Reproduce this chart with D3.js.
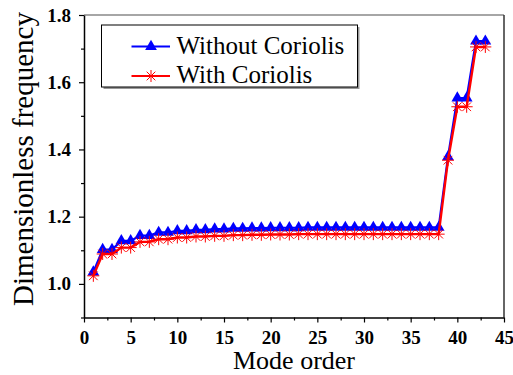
<!DOCTYPE html>
<html lang="en">
	<head>
		<meta charset="utf-8">
		<title>Dimensionless frequency vs mode order</title>
		<script type="text/javascript" src="https://cdn.jsdelivr.net/npm/d3@7"></script>
		<style type="text/css">
			body { margin: 0; background: #fff; }
			svg text { font-family: "Liberation Serif", "Times New Roman", Times, serif; }
		</style>
	</head>
	<body>
		<script type="text/javascript">
			/** Data **/
			var modes = d3.range(1, 44);
			var withoutCoriolis = [1.035, 1.102, 1.102, 1.128, 1.128, 1.144, 1.144, 1.153, 1.153, 1.158,
				1.158, 1.161, 1.161, 1.163, 1.163, 1.165, 1.165, 1.166, 1.166, 1.167,
				1.167, 1.167, 1.167, 1.168, 1.168, 1.168, 1.168, 1.168, 1.168, 1.168,
				1.168, 1.168, 1.168, 1.168, 1.168, 1.168, 1.168, 1.168, 1.378, 1.553,
				1.553, 1.722, 1.722];
			var withCoriolis = [1.024, 1.089, 1.089, 1.108, 1.108, 1.125, 1.125, 1.133, 1.133, 1.138,
				1.138, 1.141, 1.141, 1.143, 1.143, 1.145, 1.145, 1.146, 1.146, 1.147,
				1.147, 1.147, 1.148, 1.148, 1.148, 1.148, 1.148, 1.148, 1.148, 1.148,
				1.148, 1.148, 1.148, 1.148, 1.148, 1.148, 1.148, 1.148, 1.368, 1.527,
				1.527, 1.705, 1.705];
			var xTicks = [0, 5, 10, 15, 20, 25, 30, 35, 40, 45];
			var yTicks = [1.0, 1.2, 1.4, 1.6, 1.8];
			var seriesNames = ["Without Coriolis", "With Coriolis"];

			var width = 513, height = 375;
			var margin = {top: 15, right: 9, bottom: 57.5, left: 84};
			var serif = '"Liberation Serif", "Times New Roman", Times, serif';

			var svg = d3.select("body").append("svg")
				.attr("width", width)
				.attr("height", height);

			var x = d3.scaleLinear().domain([0, 45]).range([margin.left, width - margin.right]);
			var y = d3.scaleLinear().domain([0.9, 1.8]).range([height - margin.bottom, margin.top]);

			/** frame **/
			svg.append("line")
				.attr("x1", x(0)).attr("x2", x(45))
				.attr("y1", y(1.8)).attr("y2", y(1.8))
				.attr("stroke", "#888").attr("stroke-width", 1.5);
			svg.append("line")
				.attr("x1", x(45)).attr("x2", x(45))
				.attr("y1", y(1.8)).attr("y2", y(0.9))
				.attr("stroke", "#333").attr("stroke-width", 1.5);

			/** minor ticks **/
			svg.append("g")
				.attr("transform", "translate(0," + y(0.9) + ")")
				.call(d3.axisBottom(x).tickValues(d3.range(2.5, 45, 5)).tickSize(3).tickFormat(""))
				.call(g => g.select(".domain").remove());
			svg.append("g")
				.attr("transform", "translate(" + x(0) + ",0)")
				.call(d3.axisLeft(y).tickValues([0.9, 1.1, 1.3, 1.5, 1.7]).tickSize(3).tickFormat(""))
				.call(g => g.select(".domain").remove());

			/** axes **/
			var xAxis = svg.append("g")
				.attr("transform", "translate(0," + y(0.9) + ")")
				.call(d3.axisBottom(x).tickValues(xTicks).tickSize(5).tickSizeOuter(0).tickPadding(8).tickFormat(d3.format("d")));
			var yAxis = svg.append("g")
				.attr("transform", "translate(" + x(0) + ",0)")
				.call(d3.axisLeft(y).tickValues(yTicks).tickSize(5).tickSizeOuter(0).tickPadding(8).tickFormat(d3.format(".1f")));
			svg.selectAll(".tick line").attr("stroke", "#000").attr("stroke-width", 1.2);
			[xAxis, yAxis].forEach(function (g) {
				g.attr("font-family", null).attr("font-size", null);
				g.select(".domain").attr("stroke", "#000").attr("stroke-width", 1.5);
				g.selectAll("text")
					.style("font-family", serif)
					.style("font-size", "19px")
					.style("font-weight", "bold")
					.attr("fill", "#000");
			});

			/** axis titles **/
			svg.append("text")
				.attr("x", x(22.5)).attr("y", 369)
				.attr("text-anchor", "middle")
				.style("font-family", serif)
				.style("font-size", "26px")
				.text("Mode order");
			svg.append("text")
				.attr("transform", "translate(33,159) rotate(-90)")
				.attr("text-anchor", "middle")
				.style("font-family", serif)
				.style("font-size", "29px")
				.text("Dimensionless frequency");

			/** series **/
			var line = d3.line().x((d, i) => x(modes[i])).y(d => y(d));
			var triangle = d3.symbol().type(d3.symbolTriangle).size(60);

			function star(s) {
				return "M" + (-s) + ",0L" + s + ",0M0," + (-s) + "L0," + s +
					"M" + (-s * 0.72) + "," + (-s * 0.72) + "L" + (s * 0.72) + "," + (s * 0.72) +
					"M" + (-s * 0.72) + "," + (s * 0.72) + "L" + (s * 0.72) + "," + (-s * 0.72);
			}

			svg.append("path")
				.datum(withoutCoriolis)
				.attr("d", line)
				.attr("fill", "none").attr("stroke", "#0000ff").attr("stroke-width", 2.2);
			svg.selectAll(".tri")
				.data(withoutCoriolis)
				.enter().append("path")
				.attr("class", "tri")
				.attr("transform", (d, i) => "translate(" + x(modes[i]) + "," + y(d) + ")")
				.attr("d", triangle)
				.attr("fill", "#0000ff");

			svg.append("path")
				.datum(withCoriolis)
				.attr("d", line)
				.attr("fill", "none").attr("stroke", "#ff0000").attr("stroke-width", 2.4);
			svg.selectAll(".star")
				.data(withCoriolis)
				.enter().append("path")
				.attr("class", "star")
				.attr("transform", (d, i) => "translate(" + x(modes[i]) + "," + y(d) + ")")
				.attr("d", star(6))
				.attr("fill", "none").attr("stroke", "#ff0000").attr("stroke-width", 1);

			/** legend **/
			var lg = svg.append("g");
			lg.append("rect")
				.attr("x", 103.5).attr("y", 27).attr("width", 256).attr("height", 62)
				.attr("fill", "#999");
			lg.append("rect")
				.attr("x", 101.5).attr("y", 25).attr("width", 256).attr("height", 62)
				.attr("fill", "#fff").attr("stroke", "#000").attr("stroke-width", 1);
			var rows = lg.selectAll(".row")
				.data(seriesNames)
				.enter().append("g")
				.attr("transform", (d, i) => "translate(0," + (46.5 + i * 29.5) + ")");
			rows.append("line")
				.attr("x1", 131.5).attr("x2", 170).attr("y1", 0).attr("y2", 0)
				.attr("stroke", (d, i) => i === 0 ? "#0000ff" : "#ff0000")
				.attr("stroke-width", 2.2);
			rows.append("path")
				.attr("transform", "translate(151,0)")
				.attr("d", (d, i) => i === 0 ? triangle() : star(6))
				.attr("fill", (d, i) => i === 0 ? "#0000ff" : "none")
				.attr("stroke", (d, i) => i === 0 ? "none" : "#ff0000");
			rows.append("text")
				.attr("x", 176.5).attr("y", 7)
				.style("font-family", serif)
				.style("font-size", "25px")
				.text(d => d);
		</script>
	</body>
</html>
